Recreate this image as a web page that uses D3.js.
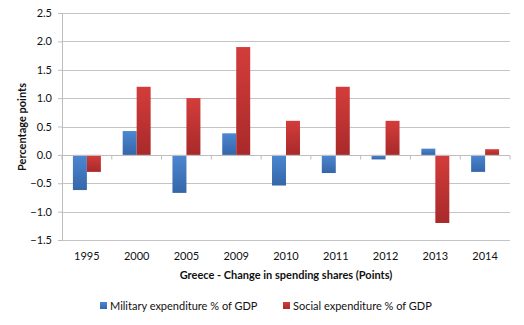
<!DOCTYPE html>
<html>
<head>
<meta charset="utf-8">
<script src="https://cdn.jsdelivr.net/npm/d3@7"></script>
<style>
  body { margin: 0; background: #fff; }
  text { font-family: Lato, "Open Sans", sans-serif; fill: #111; }
</style>
</head>
<body>
<div id="chart"></div>
<script>
const years = ['1995', '2000', '2005', '2009', '2010', '2011', '2012', '2013', '2014'];
const military = [-0.62, 0.42, -0.67, 0.38, -0.54, -0.32, -0.08, 0.11, -0.30];
const social = [-0.30, 1.20, 1.00, 1.90, 0.60, 1.20, 0.60, -1.20, 0.10];
const yTicks = [-1.5, -1.0, -0.5, 0.0, 0.5, 1.0, 1.5, 2.0, 2.5];
const seriesNames = ['Military expenditure % of GDP', 'Social expenditure % of GDP'];

const width = 524, height = 325;
const margin = { top: 13, right: 14, bottom: 85, left: 62 };

const svg = d3.select('#chart').append('svg')
        .attr('width', width)
        .attr('height', height);

// bar gradients
const defs = svg.append('defs');
const addGrad = (id, c1, c2) => {
        const g = defs.append('linearGradient').attr('id', id)
                .attr('x1', 0).attr('y1', 0).attr('x2', 0).attr('y2', 1);
        g.append('stop').attr('offset', '0%').attr('stop-color', c1);
        g.append('stop').attr('offset', '100%').attr('stop-color', c2);
};
addGrad('gBlue', '#4c87d2', '#3566a8');
addGrad('gRed', '#d33d3b', '#a9292a');

const x = d3.scaleBand()
        .domain(years)
        .range([margin.left, width - margin.right]);

const x1 = d3.scaleBand()
        .domain([0, 1])
        .range([0, x.bandwidth()])
        .paddingInner(0)
        .paddingOuter(0.78);

const y = d3.scaleLinear()
        .domain([-1.5, 2.5])
        .range([height - margin.bottom, margin.top]);

// gridlines
svg.append('g')
        .selectAll('line')
        .data(yTicks)
        .join('line')
        .attr('x1', margin.left)
        .attr('x2', width - margin.right)
        .attr('y1', d => Math.round(y(d)) + 0.5)
        .attr('y2', d => Math.round(y(d)) + 0.5)
        .attr('stroke', '#c4c4c4')
        .attr('stroke-width', 1.2);

// y axis
const yAxis = svg.append('g')
        .attr('transform', `translate(${margin.left},0)`)
        .call(d3.axisLeft(y).tickValues(yTicks).tickFormat(d3.format('.1f')).tickSize(4).tickPadding(6));
yAxis.select('.domain').attr('stroke', '#bdbdbd');
yAxis.selectAll('.tick line').attr('stroke', '#bdbdbd');
yAxis.selectAll('text').attr('font-size', 11).attr('fill', '#111');

// bars
const groups = svg.append('g')
        .selectAll('g')
        .data(years)
        .join('g')
        .attr('transform', d => `translate(${x(d)},0)`);

groups.selectAll('rect')
        .data((d, i) => [military[i], social[i]])
        .join('rect')
        .attr('x', (d, j) => x1(j))
        .attr('width', x1.bandwidth())
        .attr('y', d => y(Math.max(0, d)))
        .attr('height', d => Math.abs(y(d) - y(0)))
        .attr('fill', (d, j) => j === 0 ? 'url(#gBlue)' : 'url(#gRed)');

// x axis at zero
const xAxisG = svg.append('g')
        .attr('transform', `translate(0,${Math.round(y(0)) + 0.5})`);
xAxisG.append('line')
        .attr('x1', margin.left).attr('x2', width - margin.right)
        .attr('stroke', '#bdbdbd');
xAxisG.selectAll('line.tk')
        .data(years.map(d => x(d)).concat([width - margin.right]))
        .join('line')
        .attr('class', 'tk')
        .attr('x1', d => d).attr('x2', d => d)
        .attr('y1', 0).attr('y2', 4)
        .attr('stroke', '#bdbdbd');

// x labels
svg.append('g')
        .selectAll('text')
        .data(years)
        .join('text')
        .attr('x', d => x(d) + x.bandwidth() / 2)
        .attr('y', 260)
        .attr('text-anchor', 'middle')
        .attr('font-size', 11)
        .text(d => d);

// axis titles
svg.append('text')
        .attr('x', (margin.left + width - margin.right) / 2)
        .attr('y', 278.5)
        .attr('text-anchor', 'middle')
        .attr('font-size', 11)
        .attr('font-weight', 'bold')
        .text('Greece - Change in spending shares (Points)');

svg.append('text')
        .attr('transform', 'translate(26,127) rotate(-90)')
        .attr('text-anchor', 'middle')
        .attr('font-size', 11)
        .attr('font-weight', 'bold')
        .text('Percentage points');

// legend
const legendX = [100, 283];
const legend = svg.append('g')
        .selectAll('g')
        .data(seriesNames)
        .join('g')
        .attr('transform', (d, i) => `translate(${legendX[i]},302)`);
legend.append('rect')
        .attr('width', 7).attr('height', 7)
        .attr('fill', (d, i) => i === 0 ? 'url(#gBlue)' : 'url(#gRed)');
legend.append('text')
        .attr('x', 10).attr('y', 8)
        .attr('font-size', 11)
        .text(d => d);
</script>
</body>
</html>
